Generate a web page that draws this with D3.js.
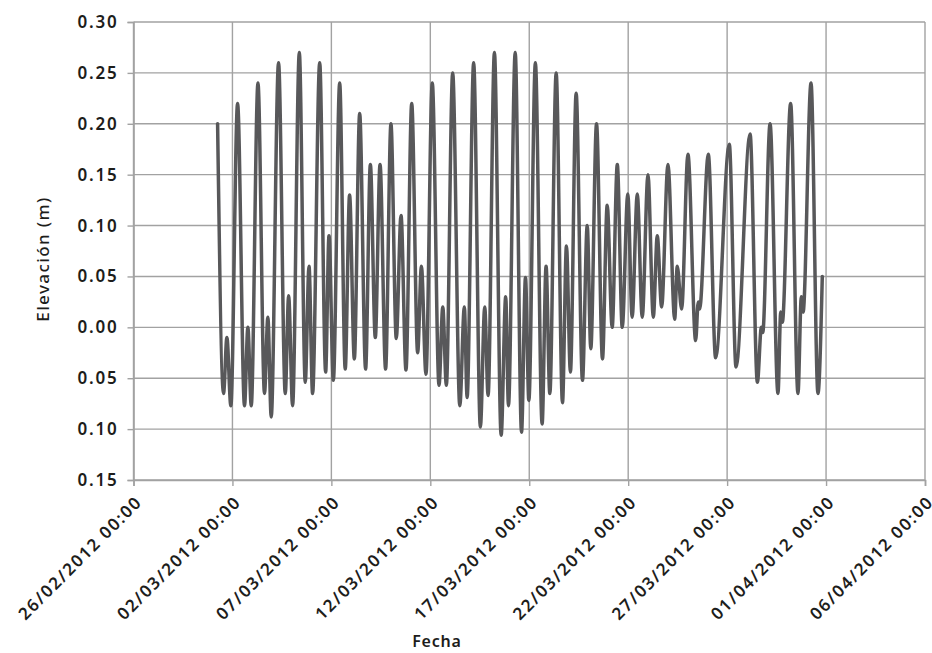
<!DOCTYPE html>
<html>
<head>
<meta charset="utf-8">
<script src="https://cdn.jsdelivr.net/npm/d3@7"></script>
<style>
	body { margin: 0; background: #fff; }
	svg { display: block; }
</style>
</head>
<body>
<svg></svg>
<script>
const size = { w: 932, h: 653 };
const plot = { l: 133.5, r: 925, t: 22, b: 480 };
const font = "'Noto Sans', 'Open Sans', sans-serif";
const svg = d3.select("svg");

svg.attr("width", size.w).attr("height", size.h);

// days after 26/02/2012 00:00 for each turning point of the tide record
const dayOffsets = [
	4.25, 4.55, 4.72, 4.92, 5.26, 5.61, 5.78, 5.95, 6.29, 6.62, 6.79, 6.96,
	7.33, 7.67, 7.84, 8.04, 8.38, 8.68, 8.87, 9.05, 9.41, 9.71, 9.88, 10.10,
	10.42, 10.70, 10.92, 11.16, 11.43, 11.73, 11.97, 12.22, 12.46, 12.74, 13.01, 13.28,
	13.52, 13.77, 14.06, 14.36, 14.55, 14.78, 15.10, 15.44, 15.63, 15.81, 16.13, 16.49,
	16.72, 16.86, 17.19, 17.53, 17.75, 17.92, 18.24, 18.58, 18.81, 18.95, 19.29, 19.61,
	19.81, 19.98, 20.31, 20.65, 20.85, 21.04, 21.36, 21.68, 21.88, 22.08, 22.37, 22.69,
	22.93, 23.11, 23.40, 23.70, 23.94, 24.19, 24.45, 24.70, 24.98, 25.20, 25.46, 25.71,
	26.00, 26.27, 26.47, 26.69, 27.01, 27.35, 27.48, 27.70, 28.02, 28.41, 28.54, 28.61,
	29.05, 29.42, 30.11, 30.45, 31.16, 31.53, 31.73, 31.80, 32.17, 32.57, 32.71, 32.79,
	33.21, 33.58, 33.75, 33.84, 34.24, 34.59, 34.81
];
// elevation (m) at those points
const elevations = [
	0.20, -0.065, -0.01, -0.077, 0.22, -0.077, 0.0, -0.077, 0.24, -0.065, 0.01, -0.088,
	0.26, -0.065, 0.031, -0.077, 0.27, -0.054, 0.06, -0.065, 0.26, -0.044, 0.09, -0.052,
	0.24, -0.041, 0.13, -0.031, 0.21, -0.041, 0.16, -0.01, 0.16, -0.041, 0.20, -0.011,
	0.11, -0.042, 0.22, -0.025, 0.06, -0.046, 0.24, -0.057, 0.02, -0.057, 0.25, -0.077,
	0.02, -0.069, 0.26, -0.098, 0.02, -0.067, 0.27, -0.106, 0.03, -0.077, 0.27, -0.103,
	0.049, -0.072, 0.26, -0.095, 0.06, -0.065, 0.25, -0.074, 0.08, -0.044, 0.23, -0.052,
	0.10, -0.021, 0.20, -0.031, 0.12, 0.0, 0.16, 0.0, 0.131, 0.01, 0.131, 0.01,
	0.15, 0.01, 0.09, 0.02, 0.16, 0.008, 0.06, 0.018, 0.17, -0.013, 0.025, 0.018,
	0.17, -0.03, 0.18, -0.039, 0.19, -0.054, 0.0, -0.005, 0.20, -0.065, 0.015, 0.005,
	0.22, -0.065, 0.03, 0.015, 0.24, -0.065, 0.05
];

const yTicks = [0.30, 0.25, 0.20, 0.15, 0.10, 0.05, 0.00, -0.05, -0.10, -0.15];
// printed labels as they appear (no minus sign in the original)
const yTickLabels = ["0.30", "0.25", "0.20", "0.15", "0.10", "0.05", "0.00", "0.05", "0.10", "0.15"];
const xTickDays = [0, 5, 10, 15, 20, 25, 30, 35, 40];

const start = Date.UTC(2012, 1, 26);
const dayMs = 864e5;
const data = dayOffsets.map((d, i) => ({ t: new Date(start + d * dayMs), v: elevations[i] }));
const xTicks = xTickDays.map(d => new Date(start + d * dayMs));

const x = d3.scaleUtc()
	.domain([new Date(start), new Date(start + 40 * dayMs)])
	.range([plot.l, plot.r]);
const y = d3.scaleLinear().domain([-0.15, 0.30]).range([plot.b, plot.t]);

const gridColor = "#a2a2a2";
const textColor = "#1d1d1b";

// grid
let gridG = svg.append("g").classed("grid", true);
gridG.selectAll("line.h")
	.data(yTicks)
	.enter()
	.append("line")
	.attr("x1", plot.l).attr("x2", plot.r)
	.attr("y1", d => y(d)).attr("y2", d => y(d))
	.attr("stroke", gridColor).attr("stroke-width", 1.4);
gridG.selectAll("line.v")
	.data(xTicks)
	.enter()
	.append("line")
	.attr("x1", d => x(d)).attr("x2", d => x(d))
	.attr("y1", plot.t).attr("y2", plot.b)
	.attr("stroke", gridColor).attr("stroke-width", 1.4);

// y axis
let yAxis = d3.axisLeft(y)
	.tickValues(yTicks)
	.tickSize(6)
	.tickPadding(9)
	.tickFormat((d, i) => yTickLabels[i]);
let yG = svg.append("g").attr("transform", `translate(${plot.l},0)`).call(yAxis);
yG.attr("font-family", null);
yG.select(".domain").attr("stroke", gridColor).attr("stroke-width", 1.6);
yG.selectAll(".tick line").attr("stroke", gridColor).attr("stroke-width", 1.4);
yG.selectAll(".tick text")
	.attr("fill", textColor)
	.style("font-family", font)
	.style("font-size", "17px")
	.style("font-weight", 600)
	.style("letter-spacing", "1.8px");

// x axis
let xAxis = d3.axisBottom(x)
	.tickValues(xTicks)
	.tickSize(6)
	.tickFormat(d3.utcFormat("%d/%m/%Y %H:%M"));
let xG = svg.append("g").attr("transform", `translate(0,${plot.b})`).call(xAxis);
xG.attr("font-family", null);
xG.select(".domain").attr("stroke", gridColor).attr("stroke-width", 1.6);
xG.selectAll(".tick line").attr("stroke", gridColor).attr("stroke-width", 1.4);
xG.selectAll(".tick text")
	.attr("fill", textColor)
	.attr("text-anchor", "end")
	.attr("x", 0).attr("y", 0).attr("dy", "0.35em")
	.attr("transform", "translate(5,19) rotate(-45)")
	.style("font-family", font)
	.style("font-size", "17px")
	.style("font-weight", 600)
	.style("letter-spacing", "1.7px");

// elevation line
let line = d3.line()
	.x(d => x(d.t))
	.y(d => y(d.v))
	.curve(d3.curveMonotoneX);

svg.append("path")
	.datum(data)
	.attr("d", line)
	.attr("fill", "none")
	.attr("stroke", "#58585a")
	.attr("stroke-width", 3.5)
	.attr("stroke-linejoin", "round")
	.attr("stroke-linecap", "round");

// axis titles
svg.append("text")
	.attr("transform", "translate(43,259) rotate(-90)")
	.attr("text-anchor", "middle")
	.attr("dy", "0.35em")
	.attr("fill", textColor)
	.style("font-family", font)
	.style("font-size", "17px")
	.style("font-weight", 500)
	.style("letter-spacing", "1.4px")
	.text("Elevación (m)");

svg.append("text")
	.attr("x", 437)
	.attr("y", 647)
	.attr("text-anchor", "middle")
	.attr("fill", textColor)
	.style("font-family", font)
	.style("font-size", "16px")
	.style("font-weight", 600)
	.style("letter-spacing", "0.8px")
	.text("Fecha");
</script>
</body>
</html>
